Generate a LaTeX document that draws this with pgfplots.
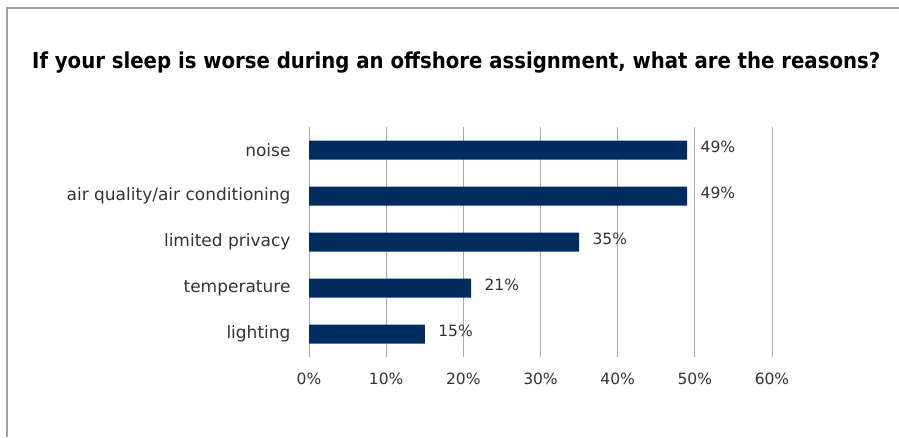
\documentclass[border=0pt]{standalone}
\usepackage{fontspec}
\setmainfont{DejaVu Sans}
\newfontfamily\titlefont{DejaVu Sans Condensed}
\usepackage{pgfplots}
\pgfplotsset{compat=1.18}
\definecolor{barblue}{RGB}{0,44,96}
\definecolor{framegray}{RGB}{160,160,160}
\definecolor{gridgray}{RGB}{170,170,170}
\definecolor{txt}{RGB}{51,51,51}
\begin{document}
\begin{tikzpicture}[x=1pt,y=1pt]
\useasboundingbox (0,0) rectangle (899,437);
\draw[framegray, line width=2.5pt] (7,0) -- (7,429) -- (899,429);
\node[anchor=base west, inner sep=0pt, font=\titlefont\bfseries\fontsize{21.9}{26}\selectfont, text=black] at (32,368) {If your sleep is worse during an offshore assignment, what are the reasons?};
\begin{axis}[
  at={(309pt,80pt)}, anchor=south west,
  scale only axis, width=463pt, height=230pt,
  xbar, bar width=19pt,
  xmin=0, xmax=60, ymin=-0.5, ymax=4.5,
  y dir=reverse,
  xtick={0,10,...,60},
  xticklabel={\pgfmathprintnumber{\tick}\%},
  ytick={0,1,2,3,4},
  yticklabels={noise, air quality/air conditioning, limited privacy, temperature, lighting},
  xmajorgrids, grid style={gridgray, line width=0.9pt},
  axis line style={draw=none},
  major tick length=0pt,
  /pgf/number format/assume math mode=true,
  xticklabel style={font=\fontsize{15.5}{18}\selectfont, text=txt, yshift=-12pt},
  yticklabel style={font=\fontsize{17}{20}\selectfont, text=txt, xshift=-15pt},
  nodes near coords={\pgfmathprintnumber{\pgfplotspointmeta}\%},
  every node near coord/.append style={font=\fontsize{15.5}{18}\selectfont, text=txt, anchor=west, xshift=10pt, yshift=3pt},
]
\addplot[fill=barblue, draw=none] coordinates {(49,0) (49,1) (35,2) (21,3) (15,4)};
\end{axis}
\end{tikzpicture}
\end{document}
